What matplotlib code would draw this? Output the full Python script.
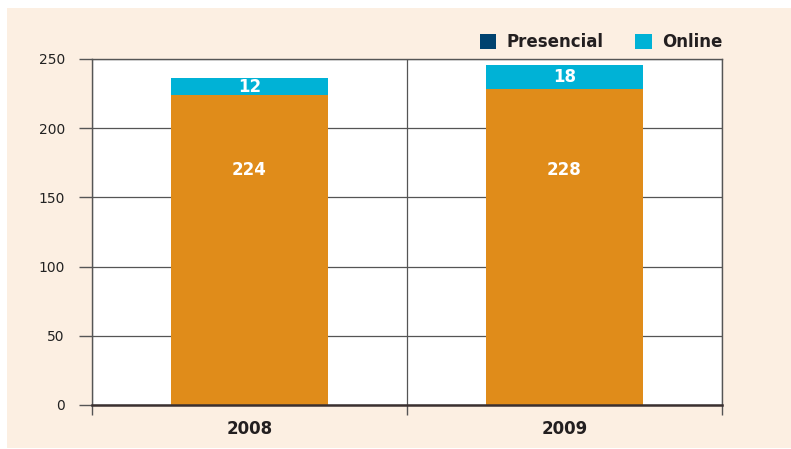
import matplotlib
matplotlib.use("Agg")
import matplotlib.pyplot as plt
from matplotlib.patches import Patch, Rectangle

years = ["2008", "2009"]
presencial = [224, 228]
online = [12, 18]
y_ticks = [0, 50, 100, 150, 200, 250]

BEIGE = "#fcefe2"
ORANGE = "#e08c1a"
CYAN = "#00b2d6"
NAVY = "#00426f"
DARK = "#231f20"

fig = plt.figure(figsize=(7.91, 4.49), dpi=100)
fig.patch.set_facecolor("white")
fig.patches.append(Rectangle((7 / 791, 0.002), 1, (449 - 9) / 449,
                             transform=fig.transFigure, facecolor=BEIGE,
                             edgecolor="none", zorder=-5))

ax = fig.add_axes([92 / 791, 44 / 449, 630 / 791, 346 / 449])
ax.set_facecolor("white")

x = list(range(len(years)))
ax.bar(x, presencial, width=0.5, color=ORANGE, zorder=3)
ax.bar(x, online, width=0.5, bottom=presencial, color=CYAN, zorder=3)

# value labels
for i in x:
    ax.text(i, 170, str(presencial[i]), ha="center", va="center",
            color="white", fontsize=12, fontweight="bold", zorder=4)
    ax.text(i, presencial[i] + online[i] / 2, str(online[i]), ha="center",
            va="center", color="white", fontsize=12, fontweight="bold", zorder=4)

ax.set_xlim(-0.5, len(years) - 0.5)
ax.set_ylim(0, 250)
ax.set_yticks(y_ticks)
ax.set_yticklabels([str(v) for v in y_ticks], fontsize=10, color="#222222")
ax.tick_params(axis="y", length=9.5, width=1, color="#555555", pad=10)

ax.set_xticks(x)
ax.set_xticklabels(years, fontsize=12, fontweight="bold", color=DARK)
ax.set_xticks([i - 0.5 for i in range(len(years) + 1)], minor=True)
ax.tick_params(axis="x", which="major", length=0, pad=11)
ax.tick_params(axis="x", which="minor", length=7, width=1, color="#555555")

ax.grid(axis="y", color="#555555", linewidth=0.9, zorder=1)
ax.grid(axis="x", which="minor", color="#555555", linewidth=0.9, zorder=1)

for side in ["top", "right", "left"]:
    ax.spines[side].set_color("#555555")
    ax.spines[side].set_linewidth(1)
ax.spines["bottom"].set_color("#3a3030")
ax.spines["bottom"].set_linewidth(1.8)
ax.spines["bottom"].set_zorder(5)

handles = [Patch(facecolor=NAVY, label="Presencial"),
           Patch(facecolor=CYAN, label="Online")]
leg = ax.legend(handles=handles, loc="lower right", bbox_to_anchor=(1.008, 1.008),
                ncol=2, frameon=False, handlelength=1.0, handleheight=1.0,
                handletextpad=0.6, columnspacing=1.9, borderaxespad=0.3,
                borderpad=0.0,
                prop={"size": 12, "weight": "bold"})
for t in leg.get_texts():
    t.set_color(DARK)

fig.savefig("out.png", dpi=100, facecolor=fig.get_facecolor())
